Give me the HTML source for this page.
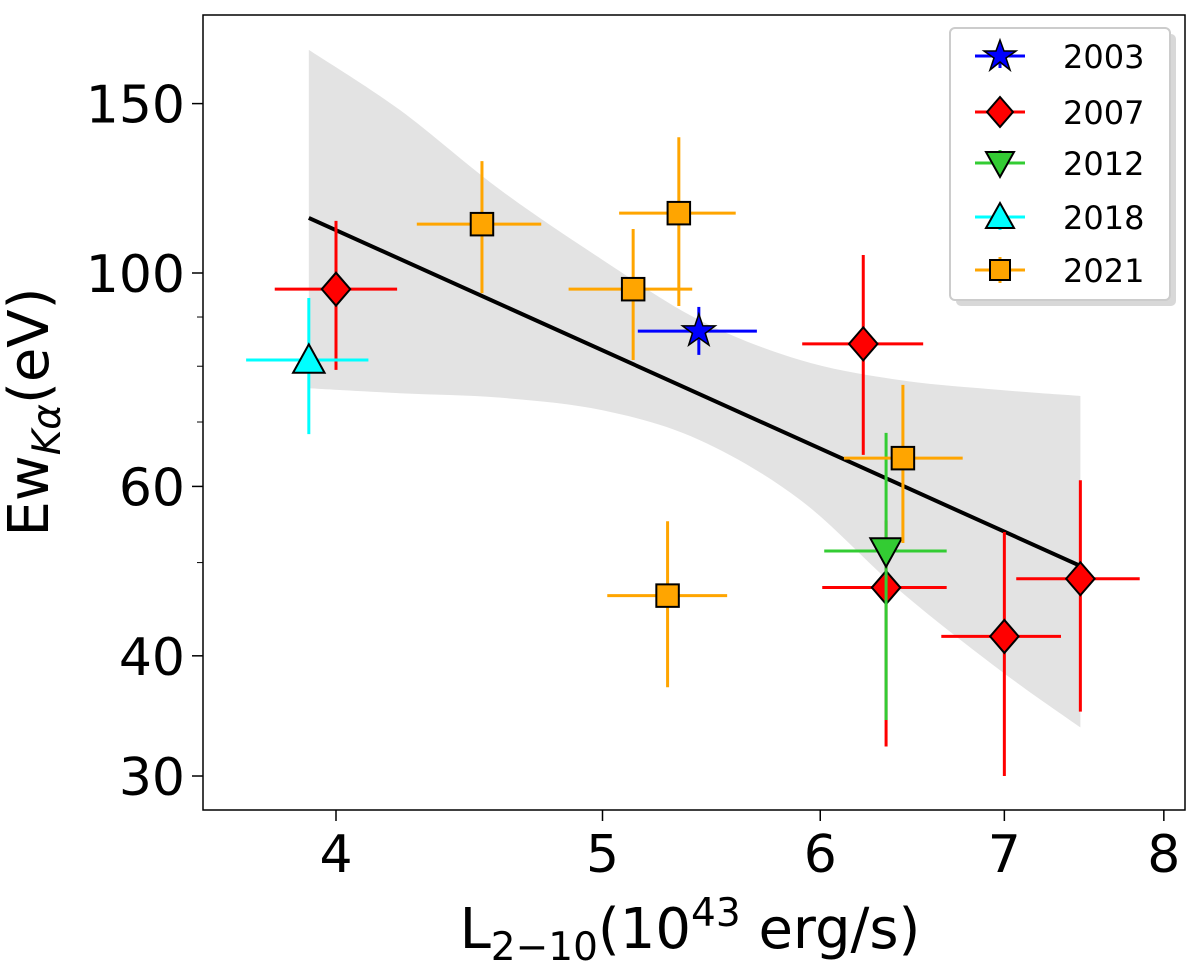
<!DOCTYPE html>
<html><head><meta charset="utf-8"><style>
body{margin:0;background:#fff}
svg{display:block;font-family:"DejaVu Sans","Liberation Sans",sans-serif}
</style></head><body>
<svg id="chart" width="1200" height="966"></svg>
<script>
const xTicks=[4,5,6,7,8];
const yTicks=[30,40,60,100,150];
const yMinor=[50,70,80,90];
const s2003=[{x:5.42,y:87.0,xl:5.15,xh:5.69,yl:82.2,yh:92.2}];
const s2007=[
{x:4.0,y:96.2,xl:3.80,xh:4.21,yl:79.3,yh:113.3},
{x:6.22,y:84.4,xl:5.91,xh:6.54,yl:64.7,yh:104.4},
{x:6.34,y:47.1,xl:6.01,xh:6.67,yl:32.2,yh:55.3},
{x:7.0,y:41.9,xl:6.64,xh:7.34,yl:30.0,yh:53.8},
{x:7.46,y:48.1,xl:7.07,xh:7.84,yl:35.0,yh:60.9}];
const s2012=[{x:6.34,y:51.4,xl:6.02,xh:6.67,yl:34.3,yh:68.2}];
const s2018=[{x:3.91,y:81.2,xl:3.71,xh:4.11,yl:68.0,yh:94.2}];
const s2021=[
{x:4.52,y:112.4,xl:4.28,xh:4.75,yl:95.3,yh:130.7},
{x:5.33,y:115.4,xl:5.07,xh:5.59,yl:92.4,yh:138.4},
{x:5.13,y:96.2,xl:4.86,xh:5.39,yl:81.2,yh:111.1},
{x:6.43,y:64.2,xl:6.12,xh:6.76,yl:52.4,yh:76.5},
{x:5.28,y:46.2,xl:5.02,xh:5.55,yl:37.1,yh:55.2}];
const fitX=[3.91,7.46];
const fitY=[114.1,49.6];
const bandX=[3.91,4.22,4.59,5.0,5.42,5.90,6.41,6.97,7.46];
const bandUpper=[170.6,147.7,122.0,103.2,89.4,81.2,77.4,75.6,74.5];
const bandLower=[75.9,75.0,74.2,72.0,67.1,58.1,46.8,38.7,33.7];

const X=v=>336+2750*Math.log10(v/4);
const Y=v=>273-962*Math.log10(v/100);
const svg=document.getElementById('chart');
const NS='http://www.w3.org/2000/svg';
function mk(tag,attrs,parent){const e=document.createElementNS(NS,tag);for(const k in attrs)e.setAttribute(k,attrs[k]);(parent||svg).appendChild(e);return e;}
function smooth(pts,start){
 let d=start?'M'+pts[0][0]+','+pts[0][1]:'L'+pts[0][0]+','+pts[0][1];
 for(let i=0;i<pts.length-1;i++){
  const p0=pts[Math.max(i-1,0)],p1=pts[i],p2=pts[i+1],p3=pts[Math.min(i+2,pts.length-1)];
  d+=`C${p1[0]+(p2[0]-p0[0])/6},${p1[1]+(p2[1]-p0[1])/6} ${p2[0]-(p3[0]-p1[0])/6},${p2[1]-(p3[1]-p1[1])/6} ${p2[0]},${p2[1]}`;
 }
 return d;
}
const up=bandX.map((x,i)=>[X(x),Y(bandUpper[i])]);
const lo=bandX.map((x,i)=>[X(x),Y(bandLower[i])]).reverse();
const band=mk('path',{d:smooth(up,true)+smooth(lo,false)+'Z',fill:'#e3e3e3'});


const fit=mk('line',{x1:X(fitX[0]),y1:Y(fitY[0]),x2:X(fitX[1]),y2:Y(fitY[1]),stroke:'#000','stroke-width':4});



function marker(kind,cx,cy,col,g){
 const r=15;
 if(kind==='star'){let p=[];for(let i=0;i<10;i++){const a=-Math.PI/2+i*Math.PI/5,rr=i%2?r*0.45:r*1.15;p.push((cx+rr*Math.cos(a))+','+(cy+rr*Math.sin(a)));}
  return mk('polygon',{points:p.join(' '),fill:col,stroke:'#000','stroke-width':1.5},g);}
 if(kind==='diamond')return mk('polygon',{points:`${cx},${cy-r*1.1} ${cx+r*0.95},${cy} ${cx},${cy+r*1.1} ${cx-r*0.95},${cy}`,fill:col,stroke:'#000','stroke-width':2},g);
 if(kind==='down')return mk('polygon',{points:`${cx-r*1.05},${cy-r*0.85} ${cx+r*1.05},${cy-r*0.85} ${cx},${cy+r*1.05}`,fill:col,stroke:'#000','stroke-width':2},g);
 if(kind==='up')return mk('polygon',{points:`${cx-r*1.05},${cy+r*0.85} ${cx+r*1.05},${cy+r*0.85} ${cx},${cy-r*1.05}`,fill:col,stroke:'#000','stroke-width':2},g);
 return mk('rect',{x:cx-r*0.75,y:cy-r*0.75,width:r*1.5,height:r*1.5,fill:col,stroke:'#000','stroke-width':2},g);
}
const series=[
 {name:'2003',data:s2003,col:'#0000ff',kind:'star'},
 {name:'2007',data:s2007,col:'#ff0000',kind:'diamond'},
 {name:'2012',data:s2012,col:'#33cc33',kind:'down'},
 {name:'2018',data:s2018,col:'#00ffff',kind:'up'},
 {name:'2021',data:s2021,col:'#ffa500',kind:'square'}];
const ecol={'2003':'#0000ff','2007':'#ff0000','2012':'#33cc33','2018':'#00ffff','2021':'#ffa500'};
series.forEach(s=>{
 const g=mk('g',{});
 
 
 s.data.forEach(p=>{
  mk('line',{x1:X(p.xl),x2:X(p.xh),y1:Y(p.y),y2:Y(p.y),stroke:ecol[s.name],'stroke-width':3},g);
  mk('line',{x1:X(p.x),x2:X(p.x),y1:Y(p.yl),y2:Y(p.yh),stroke:ecol[s.name],'stroke-width':3},g);
 });
 s.data.forEach(p=>{const m=marker(s.kind,X(p.x),Y(p.y),s.col,g);
  
  });
});
const fr=mk('rect',{x:203,y:15,width:982,height:795,fill:'none',stroke:'#000','stroke-width':1.5});


xTicks.forEach(t=>{
 mk('line',{x1:X(t),x2:X(t),y1:810,y2:821,stroke:'#000','stroke-width':1.5});
 const tx=mk('text',{x:X(t),y:872,'text-anchor':'middle','font-size':52});tx.textContent=t;
 
 
});
yTicks.forEach(t=>{
 mk('line',{x1:192,x2:203,y1:Y(t),y2:Y(t),stroke:'#000','stroke-width':1.5});
 const tx=mk('text',{x:185,y:Y(t)+19,'text-anchor':'end','font-size':52});tx.textContent=t;
 
 
});
yMinor.forEach(t=>mk('line',{x1:197,x2:203,y1:Y(t),y2:Y(t),stroke:'#000','stroke-width':1}));
</script>
<svg style="position:absolute;left:0;top:0" width="1200" height="966">
<text x="690" y="948" text-anchor="middle" font-size="56" font-family="DejaVu Sans,sans-serif">L<tspan font-size="39" dy="12">2−10</tspan><tspan dy="-12">(10</tspan><tspan font-size="39" dy="-22">43</tspan><tspan dy="22"> erg/s)</tspan></text>
<text transform="translate(48,412) rotate(-90)" text-anchor="middle" font-size="56" font-family="DejaVu Sans,sans-serif">Ew<tspan font-size="39" font-style="italic" dy="12">Kα</tspan><tspan dy="-12">(eV)</tspan></text>
<g font-family="DejaVu Sans,sans-serif" font-size="32">
<rect x="956" y="34" width="220" height="272" rx="5" fill="#d8d8d8"/>
<rect x="950" y="28" width="220" height="272" rx="5" fill="#fff" stroke="#ccc" stroke-width="2"/>
<g><line x1="975" x2="1025" y1="56" y2="56" stroke="#0000ff" stroke-width="3"/><line x1="1000" x2="1000" y1="44" y2="68" stroke="#0000ff" stroke-width="3"/><polygon points="1000,40 1004,51 1016,51 1006,58 1010,70 1000,62 990,70 994,58 984,51 996,51" fill="#0000ff" stroke="#000" stroke-width="1.5"/><text x="1063" y="68">2003</text></g>
<g><line x1="975" x2="1025" y1="112" y2="112" stroke="#ff0000" stroke-width="3"/><line x1="1000" x2="1000" y1="98" y2="126" stroke="#ff0000" stroke-width="3"/><polygon points="1000,97 1013,112 1000,127 987,112" fill="#ff0000" stroke="#000" stroke-width="2"/><text x="1063" y="124">2007</text></g>
<g><line x1="975" x2="1025" y1="163" y2="163" stroke="#33cc33" stroke-width="3"/><line x1="1000" x2="1000" y1="150" y2="176" stroke="#33cc33" stroke-width="3"/><polygon points="986,152 1014,152 1000,177" fill="#33cc33" stroke="#000" stroke-width="2"/><text x="1063" y="175">2012</text></g>
<g><line x1="975" x2="1025" y1="217" y2="217" stroke="#00ffff" stroke-width="3"/><line x1="1000" x2="1000" y1="204" y2="230" stroke="#00ffff" stroke-width="3"/><polygon points="986,228 1014,228 1000,203" fill="#00ffff" stroke="#000" stroke-width="2"/><text x="1063" y="229">2018</text></g>
<g><line x1="975" x2="1025" y1="270" y2="270" stroke="#ffa500" stroke-width="3"/><line x1="1000" x2="1000" y1="257" y2="283" stroke="#ffa500" stroke-width="3"/><rect x="990" y="260" width="20" height="20" fill="#ffa500" stroke="#000" stroke-width="2"/><text x="1063" y="282">2021</text></g>
</g>
</svg>
</body></html>
